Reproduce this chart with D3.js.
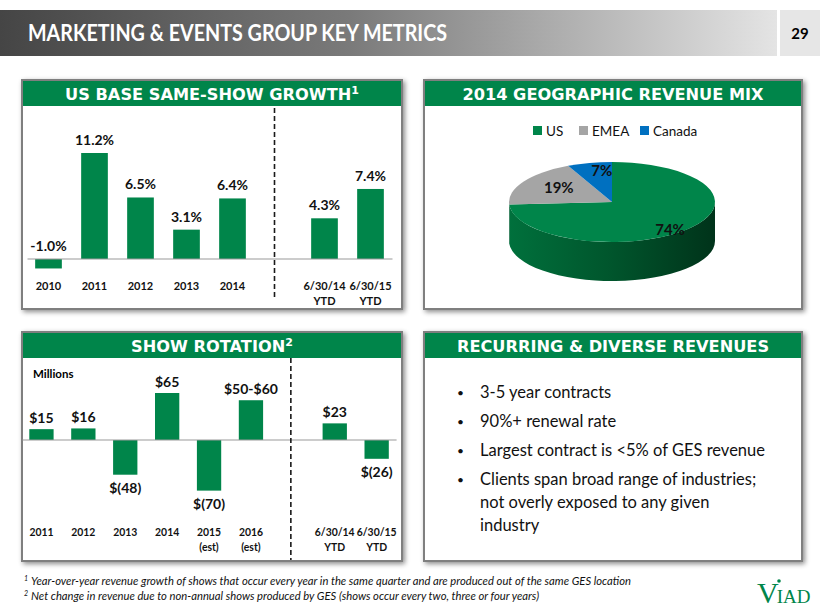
<!DOCTYPE html>
<html>
<head>
<meta charset="utf-8">
<script src="https://cdn.jsdelivr.net/npm/d3@7"></script>
<style>
  body { margin: 0; background: #fff; }
  svg { display: block; }
</style>
</head>
<body>
<script>
// Data
const growthCats = ["2010", "2011", "2012", "2013", "2014", "6/30/14 YTD", "6/30/15 YTD"];
const growthVals = [-1.0, 11.2, 6.5, 3.1, 6.4, 4.3, 7.4];

const rotationCats = ["2011", "2012", "2013", "2014", "2015 (est)", "2016 (est)", "6/30/14 YTD", "6/30/15 YTD"];
const rotationVals = [15, 16, -48, 65, -70, 55, 23, -26];
const rotationLabels = ["$15", "$16", "$(48)", "$65", "$(70)", "$50-$60", "$23", "$(26)"];

const mixRegions = ["US", "EMEA", "Canada"];
const mixShares = [74, 19, 7];

const bullets = [
    ["3-5 year contracts"],
    ["90%+ renewal rate"],
    ["Largest contract is <5% of GES revenue"],
    ["Clients span broad range of industries;", "not overly exposed to any given", "industry"]
];

const footnotes = [
    ["1", "Year-over-year revenue growth of shows that occur every year in the same quarter and are produced out of the same GES location"],
    ["2", "Net change in revenue due to non-annual shows produced by GES (shows occur every two, three or four years)"]
];

// Colors
const green = "#00854a";
const mixColors = ["#00854a", "#a5a5a5", "#0070c0"];
const calibri = "Lato, 'Open Sans', sans-serif";
const verdana = "'DejaVu Sans', Verdana, sans-serif";

const svg = d3.select("body").append("svg")
    .attr("width", 820)
    .attr("height", 615)
    .attr("viewBox", [0, 0, 820, 615]);

const defs = svg.append("defs");

const hg = defs.append("linearGradient").attr("id", "hdr").attr("x1", 0).attr("x2", 1);
hg.append("stop").attr("offset", 0).attr("stop-color", "#454545");
hg.append("stop").attr("offset", 0.45).attr("stop-color", "#7a7a7a");
hg.append("stop").attr("offset", 1).attr("stop-color", "#e4e4e4");

const sg = defs.append("linearGradient").attr("id", "side").attr("x1", 0).attr("x2", 1);
sg.append("stop").attr("offset", 0).attr("stop-color", "#00703c");
sg.append("stop").attr("offset", 0.5).attr("stop-color", "#00552c");
sg.append("stop").attr("offset", 1).attr("stop-color", "#00331a");

const shadow = defs.append("filter").attr("id", "shadow")
    .attr("x", "-5%").attr("y", "-5%").attr("width", "112%").attr("height", "112%");
shadow.append("feDropShadow")
    .attr("dx", 2).attr("dy", 2).attr("stdDeviation", 2.5)
    .attr("flood-color", "#000").attr("flood-opacity", 0.45);

// Page header
svg.append("rect").attr("x", 0).attr("y", 10).attr("width", 777).attr("height", 46).attr("fill", "url(#hdr)");
svg.append("rect").attr("x", 780).attr("y", 10).attr("width", 40).attr("height", 46).attr("fill", "#e6e6e6");
svg.append("text")
    .attr("x", 28).attr("y", 41)
    .attr("font-family", calibri).attr("font-size", 22).attr("font-weight", 700).attr("fill", "#fff")
    .attr("textLength", 419).attr("lengthAdjust", "spacingAndGlyphs")
    .text("MARKETING & EVENTS GROUP KEY METRICS");
svg.append("text")
    .attr("x", 800).attr("y", 39).attr("text-anchor", "middle")
    .attr("font-family", calibri).attr("font-size", 15).attr("font-weight", 700)
    .text("29");

// Panel frame with green title strip
function panel(x, y, w, h, title, sup) {
    const g = svg.append("g").attr("transform", `translate(${x},${y})`);
    g.append("rect")
        .attr("width", w).attr("height", h)
        .attr("fill", "#fff").attr("stroke", "#7f7f7f").attr("stroke-width", 2)
        .attr("filter", "url(#shadow)");
    g.append("rect").attr("x", 1).attr("y", 1).attr("width", w - 2).attr("height", 25).attr("fill", green);
    const t = g.append("text")
        .attr("x", w / 2).attr("y", 19.5).attr("text-anchor", "middle")
        .attr("font-family", verdana).attr("font-size", 16.2).attr("font-weight", 700)
        .attr("fill", "#fff")
        .text(title);
    if (sup) t.append("tspan").attr("font-size", 11).attr("dy", -6).text(sup);
    return g;
}

panel(22, 80, 380, 229, "US BASE SAME-SHOW GROWTH", "1");
panel(424, 80, 378, 229, "2014 GEOGRAPHIC REVENUE MIX");
panel(22, 332, 380, 229, "SHOW ROTATION", "2");
panel(424, 332, 378, 229, "RECURRING & DIVERSE REVENUES");

// Generic bar chart with a gap slot before the YTD bars
function barChart({ cats, vals, labels, gapBefore, xRange, zeroY, refVal, refY, labelAbove, labelBelow, catY, catSize, divider }) {
    const slots = [...cats.slice(0, gapBefore), "gap", ...cats.slice(gapBefore)];
    const x = d3.scaleBand().domain(slots).range(xRange).paddingInner(0.42).paddingOuter(0.21);
    const y = d3.scaleLinear().domain([0, refVal]).range([zeroY, refY]);
    const g = svg.append("g");

    g.selectAll("rect.bar")
        .data(vals)
        .join("rect")
        .attr("class", "bar")
        .attr("x", (d, i) => x(cats[i]))
        .attr("width", x.bandwidth())
        .attr("y", d => y(Math.max(0, d)))
        .attr("height", d => Math.abs(y(d) - y(0)))
        .attr("fill", green);

    g.append("line")
        .attr("x1", xRange[0] + 2).attr("x2", xRange[1] - 1)
        .attr("y1", y(0)).attr("y2", y(0))
        .attr("stroke", "#9a9a9a").attr("stroke-width", 1.2);

    g.selectAll("text.val")
        .data(vals)
        .join("text")
        .attr("class", "val")
        .attr("x", (d, i) => x(cats[i]) + x.bandwidth() / 2)
        .attr("y", d => d >= 0 || labelBelow == null ? y(Math.max(0, d)) - labelAbove : y(d) + labelBelow)
        .attr("text-anchor", "middle")
        .attr("font-family", calibri).attr("font-size", 14).attr("font-weight", 700)
        .attr("fill", "#111")
        .text((d, i) => labels[i]);

    const cl = g.selectAll("text.cat")
        .data(cats)
        .join("text")
        .attr("class", "cat")
        .attr("text-anchor", "middle")
        .attr("font-family", calibri).attr("font-size", catSize).attr("font-weight", 700)
        .attr("fill", "#111");
    cl.each(function (d) {
        const parts = d.split(" ");
        const cx = x(d) + x.bandwidth() / 2;
        parts.forEach((p, j) => {
            d3.select(this).append("tspan").attr("x", cx).attr("y", catY + j * 15).text(p);
        });
    });

    const dx = x("gap") + x.bandwidth() / 2 + divider.shift;
    g.append("line")
        .attr("x1", dx).attr("x2", dx)
        .attr("y1", divider.y0).attr("y2", divider.y1)
        .attr("stroke", "#1a1a1a").attr("stroke-width", 1.6)
        .attr("stroke-dasharray", "5,3");
    return g;
}

barChart({
    cats: growthCats,
    vals: growthVals,
    labels: growthVals.map(v => v.toFixed(1) + "%"),
    gapBefore: 5,
    xRange: [25.5, 393.5],
    zeroY: 259, refVal: 11.2, refY: 153,
    labelAbove: 8, labelBelow: null,
    catY: 290, catSize: 11,
    divider: { y0: 108, y1: 297, shift: -4 }
});

barChart({
    cats: rotationCats,
    vals: rotationVals,
    labels: rotationLabels,
    gapBefore: 6,
    xRange: [20.5, 397.6],
    zeroY: 440, refVal: 65, refY: 393,
    labelAbove: 6, labelBelow: 18,
    catY: 536, catSize: 10.4,
    divider: { y0: 358, y1: 560, shift: -2 }
});

svg.append("text")
    .attr("x", 33).attr("y", 378)
    .attr("font-family", calibri).attr("font-size", 11.5).attr("font-weight", 700)
    .text("Millions");

// 3D-looking pie
const cx = 612, cy = 202, rx = 103, ry = 40, depth = 39;
const pie = d3.pie().sort(null).value(d => d)(mixShares);
const pt = (a, dy = 0) => [cx + rx * Math.sin(a), cy - ry * Math.cos(a) + dy];
const pieG = svg.append("g");

// side walls for the front half (angles PI/2 .. 3PI/2)
pie.forEach((s, i) => {
    const a0 = Math.max(s.startAngle, Math.PI / 2);
    const a1 = Math.min(s.endAngle, 3 * Math.PI / 2);
    if (a1 <= a0) return;
    const p0 = pt(a0), p1 = pt(a1);
    const large = a1 - a0 > Math.PI ? 1 : 0;
    pieG.append("path")
        .attr("d", `M${p0}A${rx},${ry} 0 ${large} 1 ${p1}L${p1[0]},${p1[1] + depth}A${rx},${ry} 0 ${large} 0 ${p0[0]},${p0[1] + depth}Z`)
        .attr("fill", i === 0 ? "url(#side)" : "#7a7a7a");
});

const arc = d3.arc().innerRadius(0).outerRadius(rx);
pieG.append("g")
    .attr("transform", `translate(${cx},${cy}) scale(1,${ry / rx})`)
    .selectAll("path")
    .data(pie)
    .join("path")
    .attr("d", arc)
    .attr("fill", (d, i) => mixColors[i]);

// label radius (fraction of the slice radius) and nudge per slice
const labelR = [0.68, 0.6, 0.72];
const labelNudge = [[7, 14], [0, 3], [6, 2]];
pieG.selectAll("text")
    .data(pie)
    .join("text")
    .attr("x", (d, i) => cx + (pt((d.startAngle + d.endAngle) / 2)[0] - cx) * labelR[i] + labelNudge[i][0])
    .attr("y", (d, i) => cy + (pt((d.startAngle + d.endAngle) / 2)[1] - cy) * labelR[i] + labelNudge[i][1])
    .attr("text-anchor", "middle")
    .attr("font-family", calibri).attr("font-size", 15).attr("font-weight", 700)
    .attr("fill", "#111")
    .text(d => d.data + "%");

// legend
const legendX = [533, 579, 640];
const leg = svg.append("g").selectAll("g").data(mixRegions).join("g")
    .attr("transform", (d, i) => `translate(${legendX[i]},126)`);
leg.append("rect").attr("width", 9).attr("height", 9).attr("fill", (d, i) => mixColors[i]);
leg.append("text")
    .attr("x", 13).attr("y", 9.5)
    .attr("font-family", calibri).attr("font-size", 13.5).attr("fill", "#111")
    .text(d => d);

// bullets
let by = 398;
const bg = svg.append("g").attr("font-family", calibri).attr("font-size", 16.5).attr("fill", "#111");
bullets.forEach(lines => {
    bg.append("text").attr("x", 457).attr("y", by - 1).attr("font-size", 12).text("•");
    lines.forEach((l, j) => {
        bg.append("text").attr("x", 480).attr("y", by + j * 23).text(l);
    });
    by += 29 + (lines.length - 1) * 23;
});

// footnotes
const fnWidths = [600, 508];
footnotes.forEach(([n, t], i) => {
    const ft = svg.append("text")
        .attr("x", 24).attr("y", 585 + i * 15)
        .attr("font-family", calibri).attr("font-size", 10.5).attr("font-style", "italic")
        .attr("fill", "#111");
    ft.append("tspan").attr("font-size", 7).attr("dy", -4).text(n);
    ft.append("tspan").attr("dy", 4).attr("dx", 3)
        .attr("textLength", fnWidths[i]).attr("lengthAdjust", "spacingAndGlyphs")
        .text(t);
});

// logo
const logo = svg.append("text")
    .attr("x", 757).attr("y", 603)
    .attr("font-family", "'Liberation Serif', 'DejaVu Serif', serif")
    .attr("fill", green);
logo.append("tspan").attr("font-size", 30).text("V");
logo.append("tspan").attr("font-size", 19).attr("dx", -2).text("IAD");
svg.append("circle").attr("cx", 779).attr("cy", 581).attr("r", 1.8).attr("fill", green);
</script>
</body>
</html>
